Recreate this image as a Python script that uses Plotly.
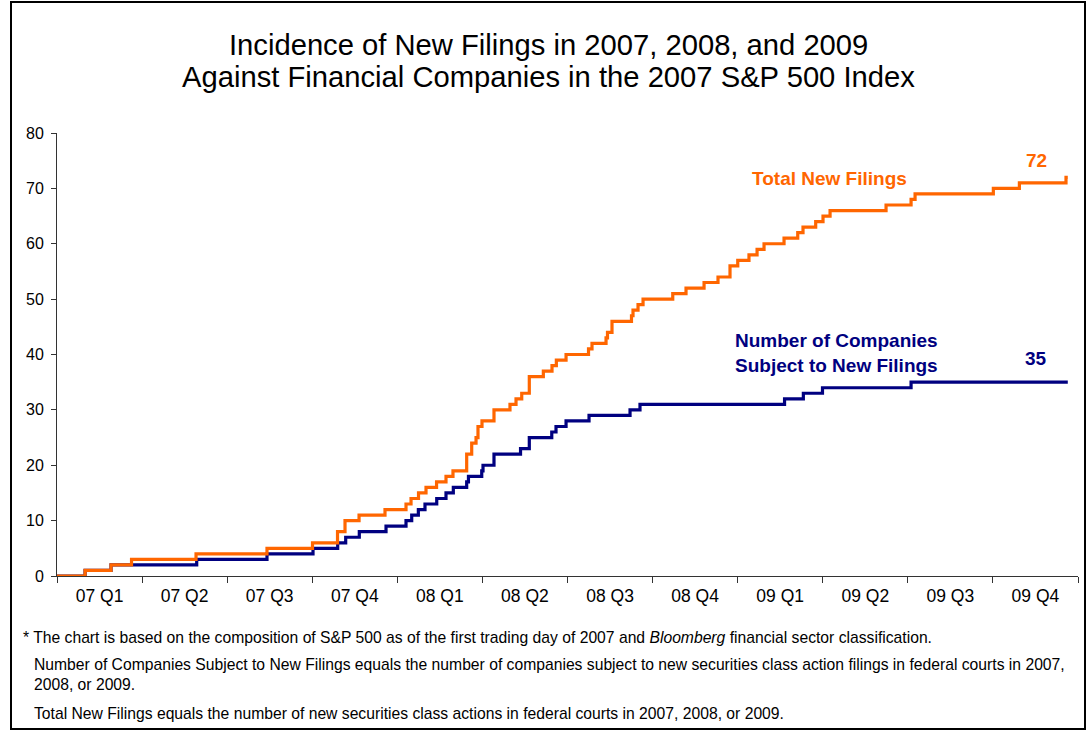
import plotly.graph_objects as go

# x positions: quarters elapsed since 1 Jan 2007
total_q = [0.0, 0.33, 0.635, 0.876, 1.634, 2.468, 3.003, 3.297, 3.385, 3.550, 3.855,
           4.102, 4.161, 4.249, 4.337, 4.461, 4.572, 4.654, 4.815, 4.874, 4.925, 4.948,
           4.995, 5.136, 5.324, 5.395, 5.462, 5.551, 5.716, 5.818, 5.869, 5.983, 6.247,
           6.288, 6.453, 6.470, 6.523, 6.752, 6.770, 6.829, 6.888, 7.237, 7.393, 7.605,
           7.769, 7.910, 8.001, 8.133, 8.228, 8.310, 8.545, 8.706, 8.768, 8.917, 9.003,
           9.086, 9.744, 10.038, 10.085, 11.005, 11.311, 11.859, 11.88]
total_v = [0, 1, 2, 3, 4, 5, 6, 8, 10, 11, 12,
           13, 14, 15, 16, 17, 18, 19, 22, 24, 25, 27,
           28, 30, 31, 32, 33, 36, 37, 38, 39, 40, 41,
           42, 43, 44, 46, 47, 48, 49, 50, 51, 52, 53,
           54, 56, 57, 58, 59, 60, 61, 62, 63, 64, 65,
           66, 67, 68, 69, 70, 71, 72, 72]

comp_q = [0.0, 0.33, 0.635, 1.642, 2.468, 3.009, 3.299, 3.393, 3.553, 3.867,
          4.102, 4.169, 4.247, 4.325, 4.463, 4.572, 4.658, 4.815, 4.836, 4.992,
          5.007, 5.136, 5.448, 5.551, 5.815, 5.865, 5.983, 6.253, 6.735, 6.852,
          8.551, 8.772, 8.997, 10.038, 11.88]
comp_v = [0, 1, 2, 3, 4, 5, 6, 7, 8, 9,
          10, 11, 12, 13, 14, 15, 16, 17, 18, 19,
          20, 22, 23, 25, 26, 27, 28, 29, 30, 31,
          32, 33, 34, 35, 35]

quarter_labels = ["07 Q1", "07 Q2", "07 Q3", "07 Q4", "08 Q1", "08 Q2",
                  "08 Q3", "08 Q4", "09 Q1", "09 Q2", "09 Q3", "09 Q4"]
label_pos = [i + 0.5 for i in range(len(quarter_labels))]
bound_pos = list(range(len(quarter_labels) + 1))

ORANGE = "#FF6600"
NAVY = "#000080"
FONT = "Liberation Sans, Arial, sans-serif"

# plot-area pixel frame
L, R, T, B = 57, 1078, 133, 576
W, H = R - L, B - T


def px(x):
    return (x - L) / W


def py(y):
    return (B - y) / H


fig = go.Figure()
fig.add_trace(go.Scatter(x=comp_q, y=comp_v, mode="lines", line=dict(color=NAVY, width=3.2, shape="hv"),
                         name="Number of Companies Subject to New Filings", hoverinfo="skip"))
fig.add_trace(go.Scatter(x=total_q, y=total_v, mode="lines", line=dict(color=ORANGE, width=3.2, shape="hv"),
                         name="Total New Filings", hoverinfo="skip"))

fig.update_layout(
    width=1090, height=732,
    margin=dict(l=L, r=1090 - R, t=T, b=732 - B),
    paper_bgcolor="white", plot_bgcolor="white",
    showlegend=False,
    font=dict(family=FONT, color="black"),
    xaxis=dict(range=[0, 12], tickmode="array", tickvals=label_pos, ticktext=quarter_labels,
               ticks="", showgrid=False, zeroline=False, showline=True, linecolor="#333333", linewidth=1,
               ticklabelstandoff=4,
               tickfont=dict(size=17.5, family=FONT, color="black"),
               minor=dict(tickmode="array", tickvals=bound_pos, ticks="outside", ticklen=6,
                          tickcolor="#333333", showgrid=False)),
    yaxis=dict(range=[0, 80], tickmode="array", tickvals=list(range(0, 81, 10)),
               ticks="outside", ticklen=5, tickcolor="#333333", showgrid=False, zeroline=False,
               showline=True, linecolor="#333333", linewidth=1, ticklabelstandoff=4,
               tickfont=dict(size=16, family=FONT, color="black")),
)

# title lines
for y, t in [(45, "Incidence of New Filings in 2007, 2008, and 2009"),
             (77, "Against Financial Companies in the 2007 S&P 500 Index")]:
    fig.add_annotation(x=px(548), y=py(y), xref="paper", yref="paper", text=t, showarrow=False,
                       xanchor="center", yanchor="middle", font=dict(size=29.2, family=FONT, color="black"))

anns = [
    dict(x=829, y=178, text="<b>Total New Filings</b>", color=ORANGE, xanchor="center"),
    dict(x=1036, y=160, text="<b>72</b>", color=ORANGE, xanchor="center"),
    dict(x=733, y=353, text="<b>Number of Companies<br>Subject to New Filings</b>", color=NAVY, xanchor="left"),
    dict(x=1036, y=358, text="<b>35</b>", color=NAVY, xanchor="center"),
]
for a in anns:
    fig.add_annotation(x=px(a["x"]), y=py(a["y"]), xref="paper", yref="paper",
                       text=a["text"], showarrow=False, xanchor=a["xanchor"], yanchor="middle", align="left",
                       font=dict(size=19, family=FONT, color=a["color"]))

notes = [
    (637, 21, "* The chart is based on the composition of S&P 500 as of the first trading day of 2007 and <i>Bloomberg</i> financial sector classification."),
    (674.5, 32, "Number of Companies Subject to New Filings equals the number of companies subject to new securities class action filings in federal courts in 2007,<br>2008, or 2009."),
    (713, 32, "Total New Filings equals the number of new securities class actions in federal courts in 2007, 2008, or 2009."),
]
for y, x, t in notes:
    fig.add_annotation(x=px(x), y=py(y), xref="paper", yref="paper", text=t,
                       showarrow=False, xanchor="left", yanchor="middle",
                       align="left", font=dict(size=15.7, family=FONT, color="black"))

fig.add_shape(type="rect", xref="paper", yref="paper",
              x0=px(11), x1=px(1085), y0=py(729), y1=py(2),
              line=dict(color="black", width=2), fillcolor="rgba(0,0,0,0)", layer="above")

fig.write_html("out.html", config={"displayModeBar": False},
               post_script="document.body.style.margin='0';")
